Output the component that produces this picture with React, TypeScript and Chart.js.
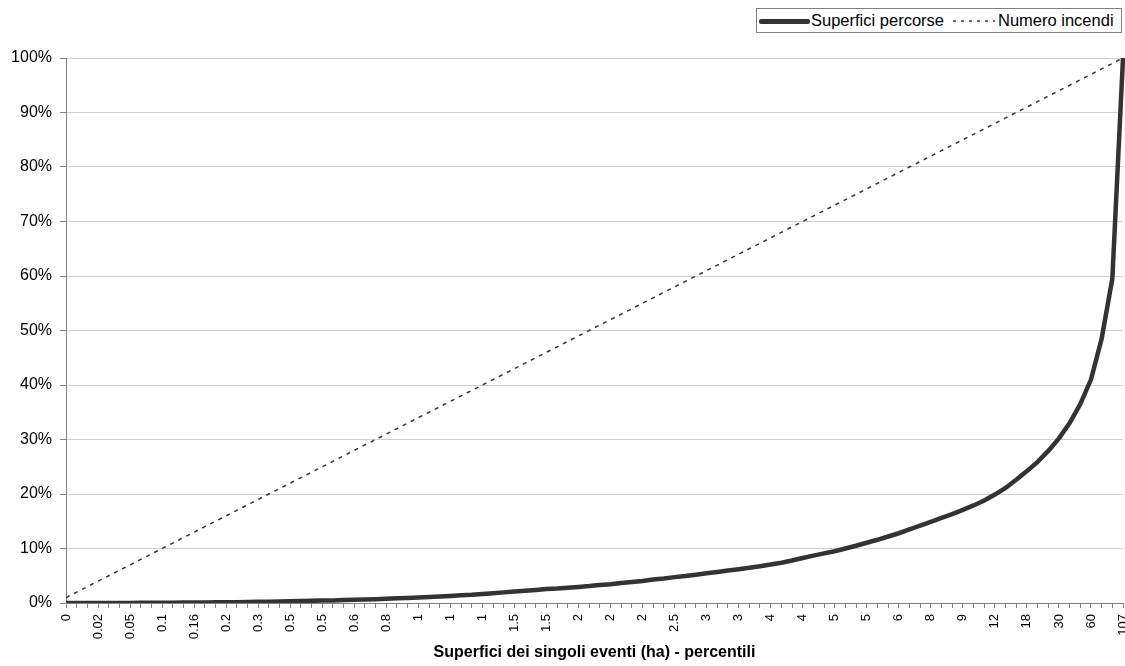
import React, { useEffect, useRef } from 'react';
import { Chart, registerables } from 'chart.js';

Chart.register(...registerables);

// Percentile tick labels (ha), one every 3 percentiles
const percentileTickLabels = [
  '0', '0.02', '0.05', '0.1', '0.16', '0.2', '0.3', '0.5', '0.5', '0.6', '0.8', '1',
  '1', '1', '1.5', '1.5', '2', '2', '2', '2.5', '3', '3', '4', '4',
  '5', '5', '6', '8', '9', '12', '18', '30', '60', '107',
];

// Cumulative share of burned area (%)
const areaShare = [
  0, 0, 0, 0.01, 0.01, 0.02, 0.02, 0.03, 0.04, 0.05,
  0.06, 0.07, 0.09, 0.1, 0.12, 0.14, 0.16, 0.19, 0.22, 0.25,
  0.28, 0.32, 0.36, 0.4, 0.44, 0.48, 0.53, 0.58, 0.64, 0.71,
  0.78, 0.85, 0.92, 1.0, 1.1, 1.2, 1.3, 1.4, 1.5, 1.65,
  1.8, 1.95, 2.1, 2.25, 2.4, 2.55, 2.65, 2.8, 2.95, 3.1,
  3.3, 3.45, 3.65, 3.85, 4.05, 4.3, 4.5, 4.75, 4.95, 5.2,
  5.45, 5.7, 5.95, 6.2, 6.45, 6.75, 7.05, 7.4, 7.8, 8.25,
  8.7, 9.1, 9.5, 10.0, 10.5, 11.05, 11.6, 12.2, 12.8, 13.5,
  14.2, 14.9, 15.6, 16.3, 17.1, 17.9, 18.8, 19.9, 21.1, 22.6,
  24.2, 25.9, 27.9, 30.2, 33.0, 36.5, 41.0, 48.5, 59.5, 100,
];

// Cumulative share of number of fires (%)
const fireShare = [
  1, 2, 3, 4, 5, 6, 7, 8, 9, 10,
  11, 12, 13, 14, 15, 16, 17, 18, 19, 20,
  21, 22, 23, 24, 25, 26, 27, 28, 29, 30,
  31, 32, 33, 34, 35, 36, 37, 38, 39, 40,
  41, 42, 43, 44, 45, 46, 47, 48, 49, 50,
  51, 52, 53, 54, 55, 56, 57, 58, 59, 60,
  61, 62, 63, 64, 65, 66, 67, 68, 69, 70,
  71, 72, 73, 74, 75, 76, 77, 78, 79, 80,
  81, 82, 83, 84, 85, 86, 87, 88, 89, 90,
  91, 92, 93, 94, 95, 96, 97, 98, 99, 100,
];

const seriesNames = ['Superfici percorse', 'Numero incendi'];
const xTitle = 'Superfici dei singoli eventi (ha) - percentili';

const FONT = '"Liberation Sans", Arial, sans-serif';
const LINE_COLOR = '#333333';

export default function App() {
  const canvasRef = useRef<HTMLCanvasElement | null>(null);

  useEffect(() => {
    const canvas = canvasRef.current;
    if (!canvas) return;
    const categories = areaShare.map((_, i) => (i % 3 === 0 ? percentileTickLabels[i / 3] : ''));
    const chart = new Chart(canvas, {
      type: 'line',
      data: {
        labels: categories,
        datasets: [
          {
            label: seriesNames[0],
            data: areaShare,
            borderColor: LINE_COLOR,
            borderWidth: 4.5,
            pointRadius: 0,
            tension: 0,
            fill: false,
          },
          {
            label: seriesNames[1],
            data: fireShare,
            borderColor: LINE_COLOR,
            borderWidth: 1.5,
            borderDash: [4, 5],
            pointRadius: 0,
            tension: 0,
            fill: false,
          },
        ],
      },
      options: {
        responsive: false,
        animation: false,
        layout: { padding: { top: 58, right: 2, left: 0, bottom: 0 } },
        plugins: {
          legend: { display: false },
          tooltip: { enabled: false },
        },
        scales: {
          x: {
            type: 'category',
            offset: false,
            grid: {
              display: true,
              drawOnChartArea: false,
              drawTicks: true,
              tickLength: 5,
              color: '#808080',
            },
            border: { display: true, color: '#808080', width: 1 },
            ticks: {
              autoSkip: false,
              minRotation: 90,
              maxRotation: 90,
              padding: 6,
              color: '#000',
              font: { family: FONT, size: 13 },
            },
            title: {
              display: true,
              text: xTitle,
              color: '#000',
              font: { family: FONT, size: 16, weight: 'bold' },
              padding: { top: 0, bottom: 4 },
            },
            afterFit: (scale: any) => {
              scale.height = 63;
              scale.paddingLeft = 0;
              scale.paddingRight = 0;
            },
          },
          y: {
            min: 0,
            max: 100,
            grid: {
              color: '#d0d0d0',
              tickColor: '#808080',
              drawTicks: true,
              tickLength: 6,
            },
            border: { display: true, color: '#808080', width: 1 },
            ticks: {
              stepSize: 10,
              padding: 8,
              color: '#000',
              font: { family: FONT, size: 16 },
              callback: (v: any) => `${v}%`,
            },
            afterFit: (scale: any) => {
              scale.width = 66;
              scale.paddingTop = 0;
              scale.paddingBottom = 0;
            },
          },
        },
      },
    });
    return () => chart.destroy();
  }, []);

  return (
    <div style={{ position: 'fixed', left: 0, top: 0, width: 1125, height: 666, background: '#fff', fontFamily: FONT }}>
      <canvas ref={canvasRef} width={1125} height={666} style={{ position: 'absolute', left: 0, top: 0 }} />
      <div
        style={{
          position: 'absolute',
          left: 756,
          top: 8,
          width: 366,
          height: 25,
          border: '1px solid #808080',
          background: '#fff',
          boxSizing: 'border-box',
        }}
      >
        <div style={{ position: 'absolute', left: 2, top: 10, width: 51, height: 4.5, background: LINE_COLOR, borderRadius: 2 }} />
        <div style={{ position: 'absolute', left: 54, top: 0, height: 23, lineHeight: '23px', fontSize: 16.5, color: '#000', whiteSpace: 'nowrap' }}>
          {seriesNames[0]}
        </div>
        <svg style={{ position: 'absolute', left: 196, top: 0 }} width={42} height={23}>
          <line x1={0} y1={12} x2={42} y2={12} stroke={LINE_COLOR} strokeWidth={1.5} strokeDasharray="3,5" />
        </svg>
        <div style={{ position: 'absolute', left: 241, top: 0, height: 23, lineHeight: '23px', fontSize: 16.5, color: '#000', whiteSpace: 'nowrap' }}>
          {seriesNames[1]}
        </div>
      </div>
    </div>
  );
}
